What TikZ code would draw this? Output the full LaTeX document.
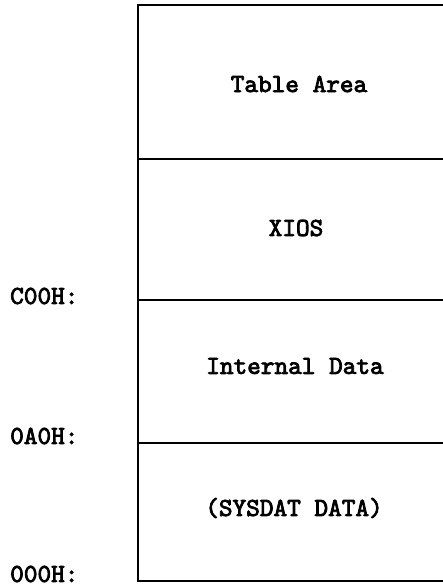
\documentclass[tikz,border=0pt]{standalone}
\usepackage{fontspec}
\newfontfamily\courfont[FakeBold=3]{lmmono10-regular.otf}
\begin{document}
\begin{tikzpicture}[x=1pt,y=-1pt,
  lbl/.style={font=\courfont\fontsize{26}{28}\selectfont, inner sep=0pt},
  seg/.style={line width=2pt}]
\useasboundingbox (0,0) rectangle (443,587);
\coordinate (tl) at (138,5);
\coordinate (tr) at (443,5);
\coordinate (bl) at (138,581);
\coordinate (br) at (443,581);
\coordinate (d1l) at (138,159);
\coordinate (d1r) at (443,159);
\coordinate (d2l) at (138,300);
\coordinate (d2r) at (443,300);
\coordinate (d3l) at (138,443);
\coordinate (d3r) at (443,443);
\draw[seg] (tr) -- (tl) -- (bl) -- (br);
\draw[seg] (d1l) -- (d1r);
\draw[seg] (d2l) -- (d2r);
\draw[seg] (d3l) -- (d3r);
\node[lbl] (ta) at (299,84) {Table Area};
\node[lbl] (xi) at (296,228) {XIOS};
\node[lbl] (id) at (295,366) {Internal Data};
\node[lbl] (sd) at (294,508) {(SYSDAT DATA)};
\node[lbl, anchor=west] (c0) at (10,296) {C00H:};
\node[lbl, anchor=west] (a0) at (10,436) {0A0H:};
\node[lbl, anchor=west] (z0) at (10,574) {000H:};
\end{tikzpicture}
\end{document}
